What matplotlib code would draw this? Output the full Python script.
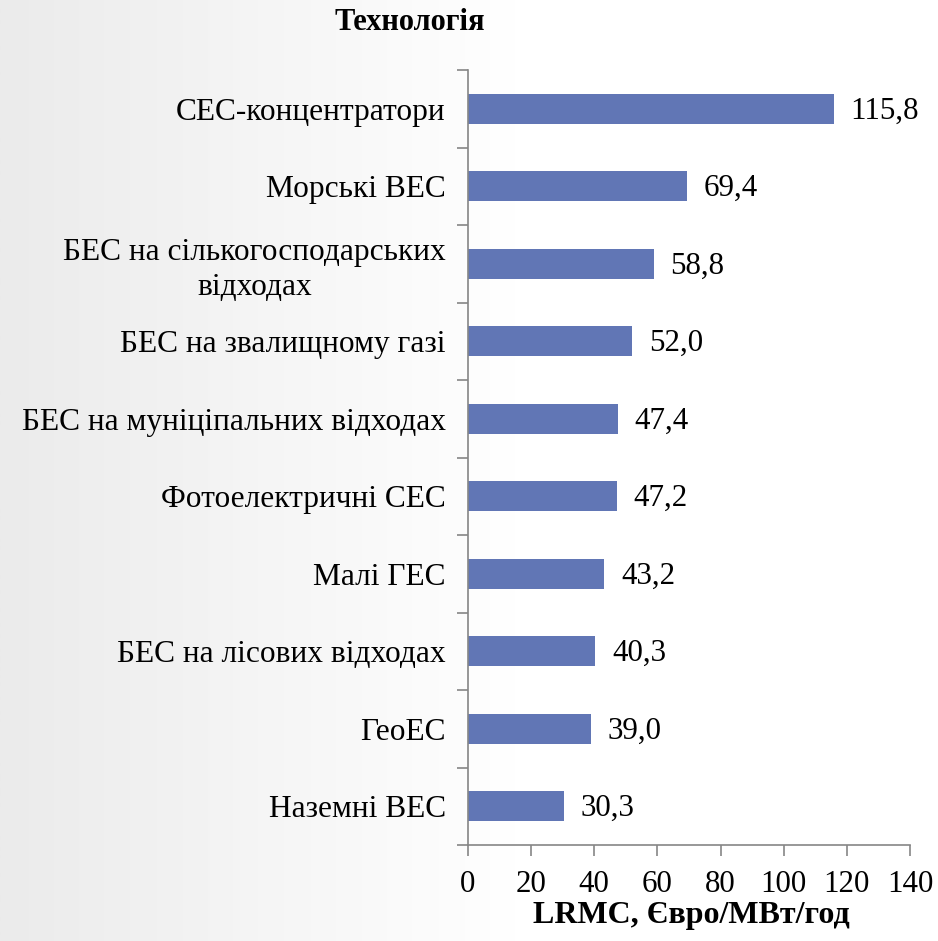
import numpy as np
import matplotlib.pyplot as plt
from matplotlib.colors import LinearSegmentedColormap

plt.rcParams['font.family'] = ['Liberation Serif', 'DejaVu Serif']

categories = [
    "СЕС-концентратори",
    "Морські ВЕС",
    "БЕС на сількогосподарських\nвідходах",
    "БЕС на звалищному газі",
    "БЕС на муніціпальних відходах",
    "Фотоелектричні СЕС",
    "Малі ГЕС",
    "БЕС на лісових відходах",
    "ГеоЕС",
    "Наземні ВЕС",
]
values = [115.8, 69.4, 58.8, 52.0, 47.4, 47.2, 43.2, 40.3, 39.0, 30.3]
xticks = [0, 20, 40, 60, 80, 100, 120, 140]

fig = plt.figure(figsize=(9.38, 9.41), dpi=100)

# light grey gradient on the left of the background
bg = fig.add_axes([0, 0, 1, 1], zorder=-10)
cmap = LinearSegmentedColormap.from_list("bg", ["#ebebeb", "#ffffff"])
grad = np.clip(np.linspace(0, 1, 400) / 0.55, 0, 1)[None, :]
bg.imshow(grad, cmap=cmap, aspect="auto", extent=[0, 1, 0, 1], vmin=0, vmax=1)
bg.axis("off")

ax = fig.add_axes([468 / 938, 1 - 845 / 941, 442 / 938, 775 / 941])
ax.patch.set_alpha(0)

y = np.arange(len(categories))
ax.barh(y, values, height=0.39, color="#6176b5")
for yi, v in zip(y, values):
    ax.text(v + 5.3, yi + 0.03, f"{v:.1f}".replace(".", ","), va="center",
            ha="left", fontsize=22.3)

ax.set_xlim(0, 140)
ax.set_ylim(len(categories) - 0.5, -0.5)
ax.set_xticks(xticks)
ax.set_xticklabels([str(t) for t in xticks], fontsize=22.3)
ax.set_yticks(y)
ax.set_yticklabels(categories, fontsize=22.6, multialignment="center",
                   linespacing=1.25)
ax.set_yticks(np.arange(-0.5, len(categories), 1), minor=True)
ax.tick_params(axis="y", which="major", length=0, pad=16)
ax.tick_params(axis="y", which="minor", length=8, color="#868686", width=1.2)
ax.tick_params(axis="x", length=8, color="#868686", width=1.2, pad=10)

for s in ["top", "right"]:
    ax.spines[s].set_visible(False)
for s in ["left", "bottom"]:
    ax.spines[s].set_color("#868686")
    ax.spines[s].set_linewidth(1.2)

fig.text(410 / 938, 1 - 23 / 941, "Технологія", ha="center", va="center",
         fontsize=22, fontweight="bold")
fig.text(691 / 938, 1 - 915 / 941, "LRMC, Євро/МВт/год", ha="center",
         va="center", fontsize=23, fontweight="bold")

plt.savefig("out.png", dpi=100)
plt.close(fig)
